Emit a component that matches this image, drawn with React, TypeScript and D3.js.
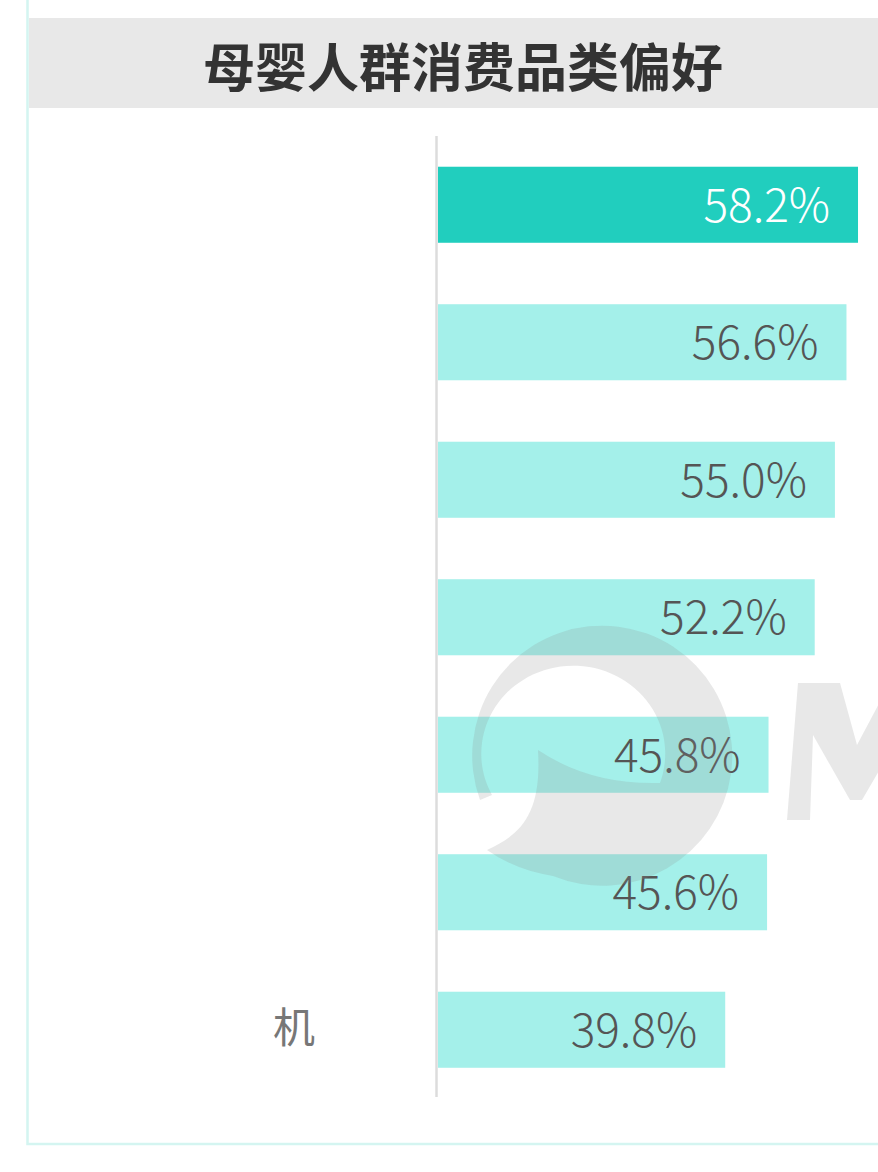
import React from "react";
import * as d3 from "d3";

const title = "母婴人群消费品类偏好";
const categoryLabels = ["", "", "", "", "", "", "机"];
const values = [58.2, 56.6, 55.0, 52.2, 45.8, 45.6, 39.8];
const highlightIndex = 0;

const W = 878;
const H = 1172;

export default function App() {
  const idx = values.map((_, i) => i);
  const y = d3
    .scaleBand<number>()
    .domain(idx)
    .range([136, 1098.5])
    .paddingInner(0.447)
    .paddingOuter(0.2235);
  const x = d3.scaleLinear().domain([0, 60]).range([438, 871]);
  const bw = y.bandwidth();

  const font = "'Noto Sans CJK SC', 'Noto Sans', sans-serif";

  const logoPath =
    "M 480 800 A 130 130 0 1 1 553 876 Q 515 870 487 850 C 520 835 542 815 538 750 Q 590 785 660 783 A 92 88 0 1 0 492 795 Z";
  const mPath =
    "M 787 820 L 798 683 L 840 683 L 857 745 L 890 683 L 930 683 L 920 820 L 890 820 L 897 740 L 862 800 L 850 800 L 813 735 L 810 820 Z";

  return (
    <svg
      width={W}
      height={H}
      style={{ position: "absolute", left: 0, top: 0, display: "block", background: "#fff" }}
      fontFamily={font}
    >
      {/* outer frame */}
      <rect x={27.5} y={-10} width={W + 20} height={1144 + 10} fill="none" stroke="#d4f5f1" strokeWidth={2.5} />
      {/* title band */}
      <rect x={29} y={18} width={W} height={90} fill="#e8e8e8" />
      <text
        x={463}
        y={64}
        textAnchor="middle"
        dominantBaseline="central"
        fontSize={52}
        fontWeight={700}
        fill="#333"
      >
        {title}
      </text>

      {/* bars */}
      {values.map((v, i) => (
        <rect
          key={"b" + i}
          x={x(0)}
          y={y(i)}
          width={x(v) - x(0)}
          height={bw}
          fill={i === highlightIndex ? "#21cebe" : "#a4f0ea"}
        />
      ))}
      {/* value labels */}
      {values.map((v, i) => (
        <text
          key={"t" + i}
          x={x(v) - 28}
          y={(y(i) as number) + bw / 2 - 3}
          textAnchor="end"
          dominantBaseline="central"
          fontSize={46}
          fontWeight={300}
          fill={i === highlightIndex ? "#ffffff" : "#555555"}
        >
          {v.toFixed(1) + "%"}
        </text>
      ))}
      {/* category labels */}
      {categoryLabels.map((c, i) =>
        c ? (
          <text
            key={"c" + i}
            x={294}
            y={(y(i) as number) + bw / 2 - 5}
            textAnchor="middle"
            dominantBaseline="central"
            fontSize={42}
            fontWeight={400}
            fill="#777"
          >
            {c}
          </text>
        ) : null
      )}
      {/* axis line */}
      <line x1={436.5} x2={436.5} y1={136} y2={1097} stroke="#dcdcdc" strokeWidth={2.5} />

      {/* watermark */}
      <g fill="#8c8c8c" opacity={0.2}>
        <path d={logoPath} />
        <path d={mPath} />
      </g>
    </svg>
  );
}
